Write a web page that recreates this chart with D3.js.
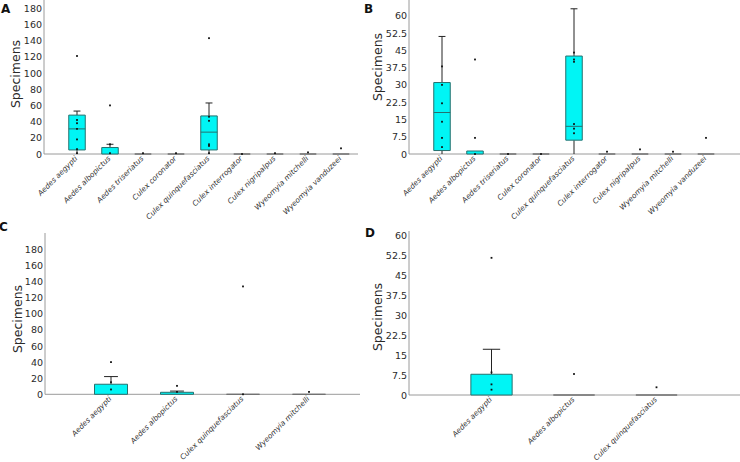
<!DOCTYPE html>
<html>
<head>
<meta charset="utf-8">
<script src="https://cdn.jsdelivr.net/npm/d3@7"></script>
<style>
  html, body { margin: 0; padding: 0; background: #fff; }
  svg { display: block; font-family: "DejaVu Sans", Verdana, sans-serif; }
</style>
</head>
<body>
<svg id="chart" width="740" height="462"></svg>
<script>
// ---------- data ----------
const catsA = ["Aedes aegypti", "Aedes albopictus", "Aedes triseriatus", "Culex coronator",
  "Culex quinquefasciatus", "Culex interrogator", "Culex nigripalpus", "Wyeomyia mitchelli", "Wyeomyia vanduzeei"];
// [min, q1, median, q3, max]
const statsA = [[0, 5, 31, 48, 53], [0, 0, 0, 8, 12], [0, 0, 0, 0, 0], [0, 0, 0, 0, 0],
  [0, 5, 27, 47, 63], [0, 0, 0, 0, 0], [0, 0, 0, 0, 0], [0, 0, 0, 0, 0], [0, 0, 0, 0, 0]];
const pointsA = [[121, 42, 38, 31, 18, 6, 1], [60, 12, 1], [1], [1],
  [143, 46, 41, 12, 10, 1], [0], [1], [2], [7]];

const catsB = catsA;
const statsB = [[0, 1.5, 18, 31, 51], [0, 0, 0, 1.3, 1.3], [0, 0, 0, 0, 0], [0, 0, 0, 0, 0],
  [0, 6, 12, 42.5, 63], [0, 0, 0, 0, 0], [0, 0, 0, 0, 0], [0, 0, 0, 0, 0], [0, 0, 0, 0, 0]];
const pointsB = [[38, 30, 22, 14, 7, 3], [41, 7, 0], [0], [0],
  [44, 41, 40, 13, 11, 9], [1], [2], [1], [7]];

const catsC = ["Aedes aegypti", "Aedes albopictus", "Culex quinquefasciatus", "Wyeomyia mitchelli"];
const statsC = [[0, 0, 0, 12.5, 22], [0, 0, 0, 2.5, 4], [0, 0, 0, 0, 0], [0, 0, 0, 0, 0]];
const pointsC = [[40, 15, 6], [10.5, 3], [134, 0], [3]];

const catsD = ["Aedes aegypti", "Aedes albopictus", "Culex quinquefasciatus"];
const statsD = [[0, 0, 0, 7.8, 17.2], [0, 0, 0, 0, 0], [0, 0, 0, 0, 0]];
const pointsD = [[51.6, 8.5, 4, 2], [7.9], [2.9]];

const ticksAC = [0, 20, 40, 60, 80, 100, 120, 140, 160, 180];
const ticksBD = [0, 7.5, 15, 22.5, 30, 37.5, 45, 52.5, 60];
const panelLetters = ["A", "B", "C", "D"];
const yTitle = "Specimens";

// ---------- drawing ----------
const svg = d3.select("#chart");
const BOX_FILL = "#00f5f5", BOX_STROKE = "#26706e", AXIS = "#9a9a9a";

function panel(o) {
  const g = svg.append("g");
  const x = d3.scalePoint().domain(o.cats).range([o.x0, o.x0 + 330]).padding(1);
  const step = x.step();
  const bw = step * 0.5, cw = bw * 0.42;
  const y = d3.scaleLinear().domain(o.ydom).range([o.y0, o.y1]);

  // axes lines
  g.append("line").attr("x1", o.x0).attr("x2", o.x0).attr("y1", o.y0).attr("y2", o.axisTop)
    .attr("stroke", AXIS).attr("stroke-width", 1);
  g.append("line").attr("x1", o.x0).attr("x2", o.xEnd).attr("y1", o.y0).attr("y2", o.y0)
    .attr("stroke", AXIS).attr("stroke-width", 1);

  // y axis tick labels
  const yAxis = d3.axisLeft(y).tickValues(o.ticks).tickSize(0).tickPadding(2)
    .tickFormat(d => String(d));
  const ya = g.append("g").attr("transform", `translate(${o.x0},0)`).call(yAxis);
  ya.select(".domain").remove();
  ya.selectAll("text").attr("font-size", 9.5).attr("fill", "#2a2a2a")
    .attr("font-family", "DejaVu Sans, sans-serif");

  // y title
  g.append("text").attr("transform", `translate(${o.titleX},${o.titleY}) rotate(-90)`)
    .attr("text-anchor", "middle").attr("font-size", 12.5).attr("fill", "#2a2a2a").text(yTitle);

  // panel letter
  g.append("text").attr("x", o.letterX).attr("y", o.letterY).attr("font-size", 12)
    .attr("font-weight", "bold").attr("fill", "#111").text(o.letter);

  // x labels
  const xAxis = d3.axisBottom(x).tickSize(0).tickPadding(0);
  const xa = g.append("g").attr("transform", `translate(0,${o.y0})`).call(xAxis);
  xa.select(".domain").remove();
  xa.selectAll("text").attr("font-size", 7.4).attr("font-style", "italic").attr("fill", "#333")
    .attr("font-family", "DejaVu Sans, sans-serif")
    .attr("text-anchor", "end").attr("dy", null).attr("y", null)
    .attr("transform", "translate(0.5,5) rotate(-45)");

  // boxes
  o.cats.forEach((c, i) => {
    const cx = x(c);
    const [mn, q1, md, q3, mx] = o.stats[i];
    const bg = g.append("g");
    if (mx > q3) {
      bg.append("line").attr("x1", cx).attr("x2", cx).attr("y1", y(q3)).attr("y2", y(mx))
        .attr("stroke", "#222").attr("stroke-width", 1);
      bg.append("line").attr("x1", cx - cw / 2).attr("x2", cx + cw / 2).attr("y1", y(mx)).attr("y2", y(mx))
        .attr("stroke", "#222").attr("stroke-width", 1);
    }
    if (q1 > mn) {
      bg.append("line").attr("x1", cx).attr("x2", cx).attr("y1", y(q1)).attr("y2", y(mn))
        .attr("stroke", "#222").attr("stroke-width", 1);
    }
    const flat = q3 === q1;
    bg.append("path")
      .attr("d", `M${cx - bw / 2},${y(q3)}H${cx + bw / 2}V${y(q1)}H${cx - bw / 2}Z`)
      .attr("fill", BOX_FILL).attr("stroke", flat ? "#707070" : BOX_STROKE).attr("stroke-width", 1);
    if (!flat && md > q1) {
      bg.append("line").attr("x1", cx - bw / 2).attr("x2", cx + bw / 2).attr("y1", y(md)).attr("y2", y(md))
        .attr("stroke", BOX_STROKE).attr("stroke-width", 1);
    }
    bg.selectAll("rect.pt").data(o.points[i]).enter().append("rect").attr("class", "pt")
      .attr("x", cx - 0.9).attr("y", d => y(d) - 0.9).attr("width", 1.8).attr("height", 1.8)
      .attr("fill", "#111");
  });
}

panel({ cats: catsA, stats: statsA, points: pointsA, ticks: ticksAC, ydom: [0, 200],
  x0: 44, xEnd: 358, y0: 154, y1: -8, axisTop: 0, titleX: 20, titleY: 74,
  letter: panelLetters[0], letterX: 1, letterY: 12.5 });
panel({ cats: catsB, stats: statsB, points: pointsB, ticks: ticksBD, ydom: [0, 60],
  x0: 409, xEnd: 740, y0: 154, y1: 15.7, axisTop: 0, titleX: 382, titleY: 67,
  letter: panelLetters[1], letterX: 364, letterY: 12.7 });
panel({ cats: catsC, stats: statsC, points: pointsC, ticks: ticksAC, ydom: [0, 200],
  x0: 45, xEnd: 360, y0: 394.3, y1: 233.3, axisTop: 233, titleX: 22, titleY: 319,
  letter: panelLetters[2], letterX: -1, letterY: 230.5 });
panel({ cats: catsD, stats: statsD, points: pointsD, ticks: ticksBD, ydom: [0, 60],
  x0: 409, xEnd: 740, y0: 395, y1: 235.5, axisTop: 231, titleX: 382, titleY: 317,
  letter: panelLetters[3], letterX: 365, letterY: 237 });
</script>
</body>
</html>
